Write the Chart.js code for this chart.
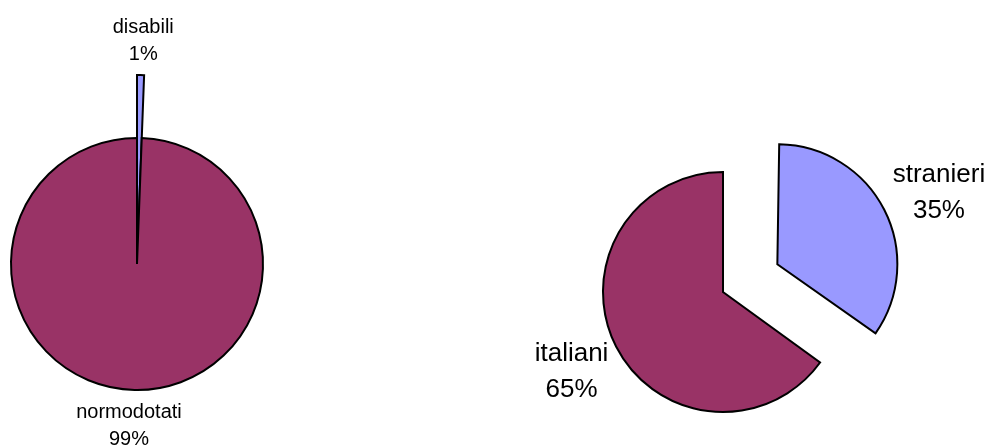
<!DOCTYPE html>
<html><head><meta charset="utf-8">
<script src="https://cdn.jsdelivr.net/npm/chart.js@4"></script>
<style>html,body{margin:0;padding:0;background:#fff;overflow:hidden;width:989px;height:446px}
canvas{position:absolute;left:0;top:0}</style></head>
<body>
<canvas id="c1" width="989" height="446"></canvas>
<canvas id="c2" width="989" height="446"></canvas>
<script>
const leftLabels = ['disabili', 'normodotati'];
const leftValues = [0.6, 99.4];
const rightLabels = ['stranieri', 'italiani'];
const rightValues = [35, 65];
const sliceColors = ['#9999FF', '#993366'];

function offsetGrow(arc) {
  const off = (arc.options.offset || 0) / 4;
  const circ = arc.endAngle - arc.startAngle;
  return off * (1 - Math.sin(Math.min(Math.PI, circ || 0)));
}

const labelPlugin = {
  id: 'sliceLabels',
  afterDatasetUpdate(chart, args, opts) {
    const ext = opts.extend || [];
    args.meta.data.forEach((arc, i) => {
      if (ext[i] && ext[i] !== 1) arc.outerRadius = arc.outerRadius * ext[i];
      // keep the exploded slice at the same visual radius as the others
      arc.outerRadius = arc.outerRadius - offsetGrow(arc);
    });
  },
  afterDatasetsDraw(chart, args, opts) {
    const ctx = chart.ctx;
    const meta = chart.getDatasetMeta(0);
    const data = chart.data.datasets[0].data;
    const total = data.reduce((a, b) => a + b, 0);
    ctx.save();
    ctx.font = opts.size + 'px "Liberation Sans", Arial, sans-serif';
    ctx.fillStyle = '#000';
    ctx.textAlign = 'center';
    ctx.textBaseline = 'alphabetic';
    meta.data.forEach((arc, i) => {
      const p = arc.getProps(['x', 'y', 'startAngle', 'endAngle', 'outerRadius']);
      const mid = (p.startAngle + p.endAngle) / 2;
      const off = (arc.options.offset || 0) / 4;
      const d = p.outerRadius + offsetGrow(arc) + off + opts.dist[i];
      const cx = p.x + Math.cos(mid) * d + (opts.dx ? opts.dx[i] : 0);
      const cy = p.y + Math.sin(mid) * d + (opts.dy ? opts.dy[i] : 0);
      const pct = Math.round(data[i] / total * 100) + '%';
      const b1 = cy - opts.gap / 2 + 0.35 * opts.size;
      ctx.fillText(chart.data.labels[i], cx, b1);
      ctx.fillText(pct, cx, b1 + opts.gap);
    });
    ctx.restore();
  }
};

function makePie(id, labels, values, cfg) {
  return new Chart(document.getElementById(id), {
    type: 'pie',
    data: {
      labels: labels,
      datasets: [{
        data: values,
        backgroundColor: sliceColors,
        borderColor: '#000',
        borderWidth: 2,
        borderJoinStyle: 'miter',
        offset: cfg.offset,
        radius: cfg.radius
      }]
    },
    options: {
      responsive: false,
      animation: false,
      events: [],
      layout: { padding: cfg.padding },
      plugins: {
        legend: { display: false },
        tooltip: { enabled: false },
        sliceLabels: cfg.labels
      }
    },
    plugins: [labelPlugin]
  });
}

makePie('c1', leftLabels, leftValues, {
  offset: [0, 0],
  radius: 126,
  padding: { left: 0, right: 715, top: 82, bottom: 0 },
  labels: { size: 20, gap: 27, dist: [36, 34], dx: [2, -5], dy: [0, 1], extend: [1.5, 1] }
});
makePie('c2', rightLabels, rightValues, {
  offset: [244, 0],
  radius: 120,
  padding: { left: 457, right: 0, top: 138, bottom: 0 },
  labels: { size: 26, gap: 36, dist: [58, 50], dx: [3, 0], dy: [7, 1], extend: [1, 1] }
});
</script>
</body></html>
